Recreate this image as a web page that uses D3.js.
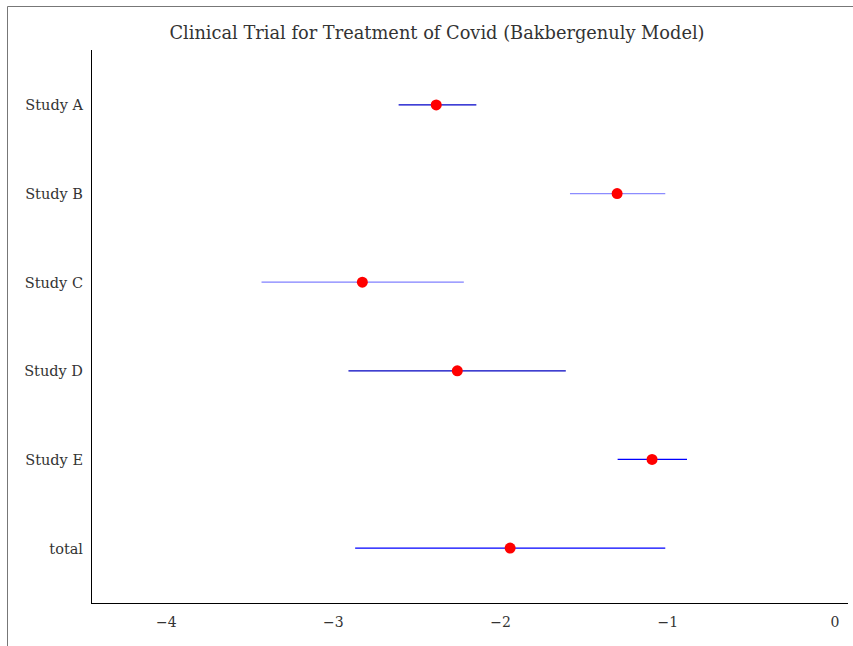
<!DOCTYPE html>
<html>
<head>
<meta charset="utf-8">
<script src="https://cdn.jsdelivr.net/npm/d3@7"></script>
<style>
  body { margin: 0; background: #fff; }
  text { font-family: "DejaVu Serif", "Liberation Serif", serif; fill: #333; }
</style>
</head>
<body>
<div id="chart"></div>
<script>
// study data
var studies = ["Study A", "Study B", "Study C", "Study D", "Study E", "total"];
var estimates = [-2.385, -1.303, -2.827, -2.259, -1.094, -1.943];
var lowers = [-2.61, -1.585, -3.43, -2.91, -1.30, -2.87];
var uppers = [-2.145, -1.015, -2.22, -1.61, -0.885, -1.015];
var lineColors = ["#0000c8", "#8c8cff", "#8080ff", "#0000c0", "#0000ff", "#0000ff"];
var xTicks = [-4, -3, -2, -1, 0];
var title = "Clinical Trial for Treatment of Covid (Bakbergenuly Model)";

var width = 853, height = 646;

var svg = d3.select("#chart").append("svg")
    .attr("width", width)
    .attr("height", height);

// figure frame
svg.append("path")
    .attr("d", "M7.5,646V6.5H853")
    .attr("fill", "none")
    .attr("stroke", "#777")
    .attr("stroke-width", 1);

var x = d3.scaleLinear()
    .domain([-4.45, 0.078])
    .range([91, 848]);

var y = d3.scalePoint()
    .domain(studies)
    .range([50, 603])
    .padding(0.62);

var data = studies.map(function (s, i) {
    return { name: s, est: estimates[i], lo: lowers[i], hi: uppers[i], color: lineColors[i] };
});

// axes
svg.append("line")
    .attr("x1", 91.5).attr("x2", 91.5)
    .attr("y1", 50).attr("y2", 603.5)
    .attr("stroke", "#000");
svg.append("line")
    .attr("x1", 91).attr("x2", 848)
    .attr("y1", 603.5).attr("y2", 603.5)
    .attr("stroke", "#000");

svg.selectAll(".xtick")
    .data(xTicks)
    .enter()
    .append("text")
    .attr("class", "xtick")
    .attr("x", function (d) { return x(d); })
    .attr("y", 627)
    .attr("text-anchor", "middle")
    .attr("font-size", "14px")
    .text(function (d) { return d < 0 ? "\u2212" + Math.abs(d) : d; });

svg.selectAll(".ylabel")
    .data(studies)
    .enter()
    .append("text")
    .attr("class", "ylabel")
    .attr("x", 83)
    .attr("y", function (d) { return y(d) + 5.5; })
    .attr("text-anchor", "end")
    .attr("font-size", "14.5px")
    .text(function (d) { return d; });

// confidence intervals
svg.selectAll(".ci")
    .data(data)
    .enter()
    .append("line")
    .attr("class", "ci")
    .attr("x1", function (d) { return x(d.lo); })
    .attr("x2", function (d) { return x(d.hi); })
    .attr("y1", function (d) { return y(d.name); })
    .attr("y2", function (d) { return y(d.name); })
    .attr("stroke", function (d) { return d.color; })
    .attr("stroke-width", 1.2);

// point estimates
svg.selectAll(".dot")
    .data(data)
    .enter()
    .append("circle")
    .attr("class", "dot")
    .attr("cx", function (d) { return x(d.est); })
    .attr("cy", function (d) { return y(d.name); })
    .attr("r", 5.5)
    .attr("fill", "#ff0000");

// title
svg.append("text")
    .attr("x", 437)
    .attr("y", 39)
    .attr("text-anchor", "middle")
    .attr("font-size", "17.8px")
    .text(title);
</script>
</body>
</html>
